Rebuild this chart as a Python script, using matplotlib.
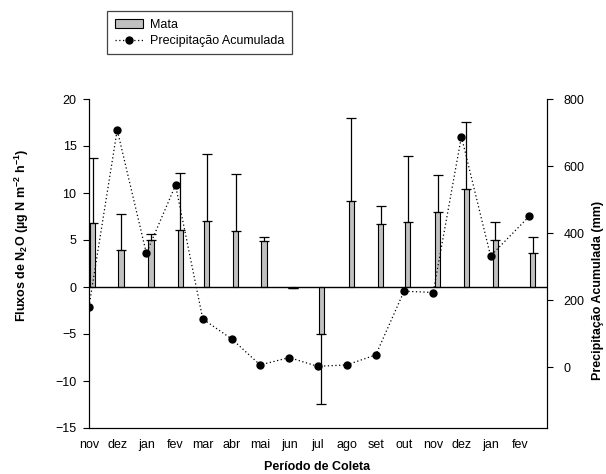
import numpy as np
import pandas as pd
import matplotlib
matplotlib.use('Agg')
import matplotlib.pyplot as plt
from matplotlib.patches import Patch
from matplotlib.lines import Line2D

plt.rcParams['font.family'] = ['Liberation Sans', 'DejaVu Sans']
plt.rcParams['font.size'] = 9
plt.rcParams['mathtext.fontset'] = 'custom'
plt.rcParams['mathtext.rm'] = 'Liberation Sans'
plt.rcParams['mathtext.bf'] = 'Liberation Sans:bold'
plt.rcParams['mathtext.it'] = 'Liberation Sans:italic'

# fluxos de N2O (barras) - datas de coleta
datas_coleta = pd.to_datetime(['2007-11-05', '2007-12-05', '2008-01-06', '2008-02-06',
                               '2008-03-05', '2008-04-05', '2008-05-05', '2008-06-05',
                               '2008-07-05', '2008-08-06', '2008-09-06', '2008-10-05',
                               '2008-11-06', '2008-12-06', '2009-01-06', '2009-02-15'])
mata = [6.8, 3.9, 5.0, 6.1, 7.05, 6.0, 4.9, -0.1, -5.0, 9.1, 6.7, 6.9, 7.95, 10.45, 5.0, 3.6]
mata_erro = [6.9, 3.9, 0.6, 6.0, 7.05, 6.0, 0.4, 0.05, 7.4, 8.9, 1.95, 7.0, 4.0, 7.15, 1.9, 1.7]

# precipitacao acumulada (mm)
datas_chuva = pd.to_datetime(['2007-11-01', '2007-12-01', '2008-01-01', '2008-02-01',
                              '2008-03-01', '2008-04-01', '2008-05-01', '2008-06-01',
                              '2008-07-01', '2008-08-01', '2008-09-01', '2008-10-01',
                              '2008-11-01', '2008-12-01', '2009-01-01', '2009-02-11'])
precip = [181, 708, 340, 543, 144, 84, 7, 29, 3, 7, 37, 227, 223, 688, 332, 450]

meses_pos = pd.date_range('2007-11-01', '2009-02-01', freq='MS')
meses = ['nov', 'dez', 'jan', 'fev', 'mar', 'abr', 'mai', 'jun', 'jul', 'ago',
         'set', 'out', 'nov', 'dez', 'jan', 'fev']

fig = plt.figure(figsize=(6.06, 4.74), dpi=100)
ax = fig.add_axes([89/606, 1-428/474, 458/606, 329/474])

v = np.array(mata)
e = np.array(mata_erro)
err_low = np.where(v < 0, e, 0)
err_up = np.where(v < 0, 0, e)
ax.bar(datas_coleta, mata, width=5.5, color='#c0c0c0', edgecolor='black', linewidth=0.8,
       yerr=[err_low, err_up], error_kw=dict(ecolor='black', elinewidth=0.9, capsize=3.4, capthick=0.9),
       zorder=2)
ax.axhline(0, color='black', lw=1, zorder=3)

ax.set_ylim(-15, 20)
ax.set_yticks(np.arange(-15, 21, 5))
ax.set_xlim(pd.Timestamp('2007-11-01'), pd.Timestamp('2009-03-02'))
ax.set_xticks(meses_pos)
ax.set_xticklabels(meses)
ax.tick_params(axis='x', length=0, pad=8)
ax.tick_params(axis='y', direction='out', length=4, width=0.8, pad=5)
ax.spines['top'].set_visible(False)

ax2 = ax.twinx()
ax2.plot(datas_chuva, precip, color='black', linestyle=(0, (1, 2)), lw=0.9,
         marker='o', markersize=5, markerfacecolor='black', markeredgecolor='black')
ax2.set_ylim(-181, 800)
ax2.set_yticks(np.arange(0, 801, 200))
ax2.tick_params(axis='y', direction='out', length=4, width=0.8, pad=8)
ax2.spines['top'].set_visible(False)

fig.text(22/606, 1-235/474, r'Fluxos de N$_{\mathbf{2}}$O (µg N m$^{\mathbf{-2}}$ h$^{\mathbf{-1}}$)',
         rotation=90, ha='center', va='center', fontweight='bold')
fig.text(598/606, 1-290/474, 'Precipitação Acumulada (mm)',
         rotation=90, ha='center', va='center', fontweight='bold')
fig.text(317/606, 1-467/474, 'Período de Coleta', ha='center', va='center', fontweight='bold')

handles = [Patch(facecolor='#c0c0c0', edgecolor='black', linewidth=0.8),
           Line2D([], [], color='black', linestyle=(0, (1, 2)), lw=0.9, marker='o', markersize=5)]
leg = fig.legend(handles, ['Mata', 'Precipitação Acumulada'], loc='upper left',
                 bbox_to_anchor=(107/606, 1-11/474), borderaxespad=0, fancybox=False,
                 edgecolor='#444444', handlelength=2.3, handletextpad=0.55,
                 labelspacing=0.35, borderpad=0.6, framealpha=1)
leg.get_frame().set_linewidth(0.9)

plt.savefig('out.png', dpi=100)
